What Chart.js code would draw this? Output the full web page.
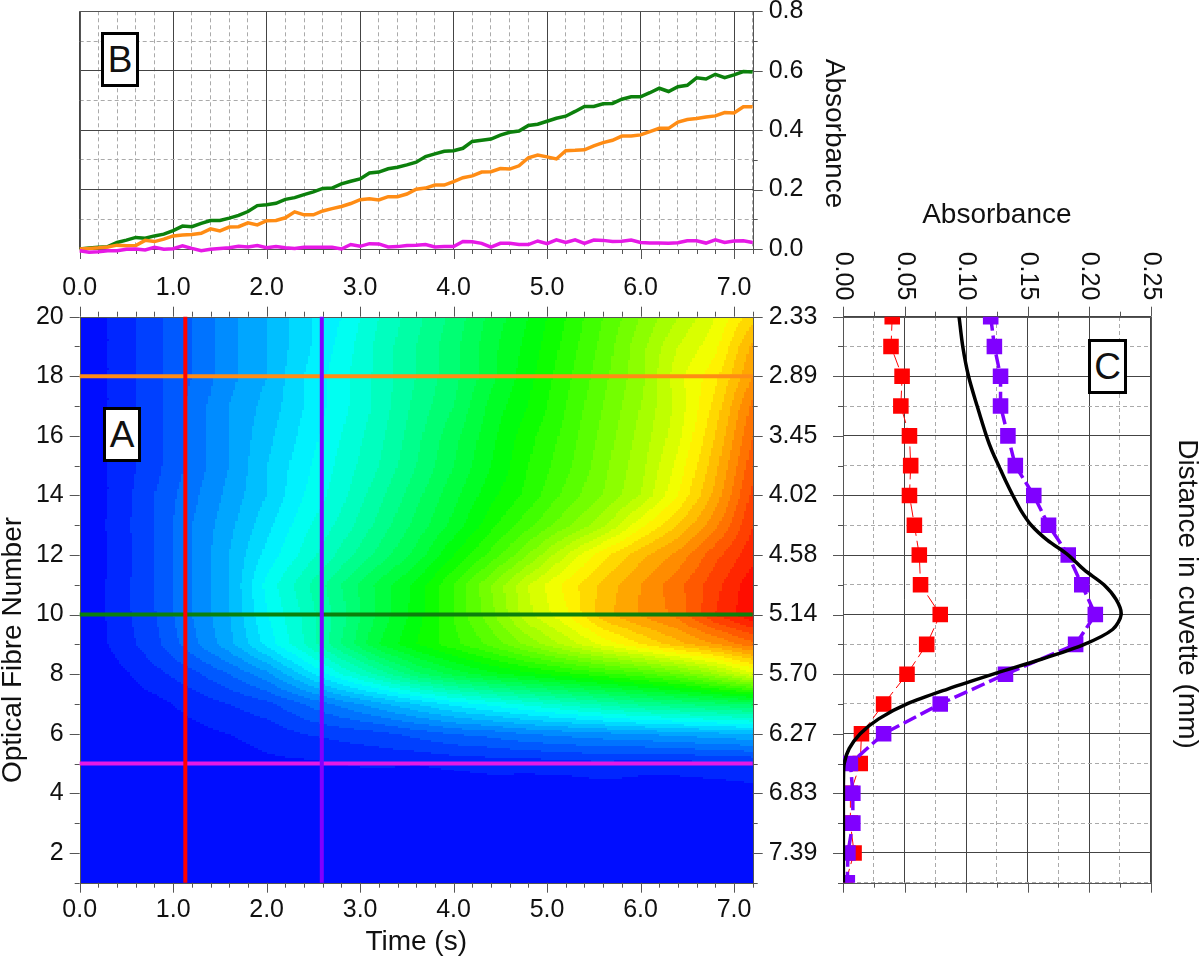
<!DOCTYPE html>
<html>
<head>
<meta charset="utf-8">
<title>Absorbance</title>
<script src="https://cdn.jsdelivr.net/npm/chart.js@4"></script>
<style>
html, body { margin: 0; padding: 0; background: #fff; overflow: hidden; }
canvas { position: absolute; }
.tag { position: absolute; box-sizing: border-box; border: 3px solid #000; background: #fff; color: #111;
  font: 37px "Liberation Sans"; text-align: center; }
</style>
</head>
<body>
<canvas id="panelB" width="860" height="310" style="left:0px;top:0px"></canvas>
<canvas id="panelA" width="840" height="670" style="left:0px;top:290px"></canvas>
<canvas id="panelC" width="380" height="740" style="left:820px;top:200px"></canvas>
<div class="tag" style="left:101px;top:32px;width:38px;height:55px;line-height:49px">B</div>
<div class="tag" style="left:103px;top:407px;width:38px;height:55px;line-height:49px">A</div>
<div class="tag" style="left:1088px;top:339px;width:39px;height:55px;line-height:49px">C</div>
<script>
var timeTicks = [0,0.2,0.4,0.6,0.8,1,1.2,1.4,1.6,1.8,2,2.2,2.4,2.6,2.8,3,3.2,3.4,3.6,3.8,4,4.2,4.4,4.6,4.8,5,5.2,5.4,5.6,5.8,6,6.2,6.4,6.6,6.8,7,7.2];
var timeTickLabels = ['0.0','','','','','1.0','','','','','2.0','','','','','3.0','','','','','4.0','','','','','5.0','','','','','6.0','','','','','7.0',''];
var traceTicks = [0,0.1,0.2,0.3,0.4,0.5,0.6,0.7,0.8];
var traceTickLabels = ['0.0','','0.2','','0.4','','0.6','','0.8'];
var fibreTicks = [1,2,3,4,5,6,7,8,9,10,11,12,13,14,15,16,17,18,19,20];
var fibreTickLabels = ['','2','','4','','6','','8','','10','','12','','14','','16','','18','','20'];
var distanceTickLabels = ['','7.39','','6.83','','6.27','','5.70','','5.14','','4.58','','4.02','','3.45','','2.89','','2.33'];
var profileTicks = [0,0.025,0.05,0.075,0.1,0.125,0.15,0.175,0.2,0.225,0.25];
var profileTickLabels = ['0.00','','0.05','','0.10','','0.15','','0.20','','0.25'];

// panel B, one reading every 0.1 s
var traceTimes = [0,0.1,0.2,0.3,0.4,0.5,0.6,0.7,0.8,0.9,1,1.1,1.2,1.3,1.4,1.5,1.6,1.7,1.8,1.9,2,2.1,2.2,2.3,2.4,2.5,2.6,2.7,2.8,2.9,3,3.1,3.2,3.3,3.4,3.5,3.6,3.7,3.8,3.9,4,4.1,4.2,4.3,4.4,4.5,4.6,4.7,4.8,4.9,5,5.1,5.2,5.3,5.4,5.5,5.6,5.7,5.8,5.9,6,6.1,6.2,6.3,6.4,6.5,6.6,6.7,6.8,6.9,7,7.1,7.2];
var fibre10Trace = [0,.003,.006,.008,.022,.03,.039,.036,.044,.05,.062,.077,.075,.086,.096,.096,.104,.113,.126,.146,.149,.154,.167,.173,.183,.192,.204,.205,.219,.228,.236,.256,.259,.27,.275,.283,.292,.311,.32,.329,.331,.339,.362,.366,.37,.383,.393,.397,.416,.42,.43,.44,.447,.463,.48,.48,.489,.49,.504,.512,.512,.526,.541,.53,.546,.551,.576,.572,.588,.577,.586,.597,.596];
var fibre18Trace = [0,.002,.004,.007,.013,.011,.012,.029,.025,.033,.044,.047,.049,.053,.068,.061,.074,.075,.088,.081,.095,.096,.105,.125,.115,.115,.128,.136,.143,.153,.166,.169,.165,.176,.176,.185,.201,.205,.215,.215,.227,.24,.246,.259,.26,.271,.269,.28,.307,.316,.31,.303,.331,.332,.334,.347,.358,.366,.38,.38,.384,.395,.406,.406,.427,.436,.439,.444,.448,.459,.458,.479,.479];
var fibre5Trace = [-.006,-.011,-.009,-.006,-.006,-.001,0,-.003,.006,-.001,.001,.011,.002,-.006,-.001,.002,.004,.009,.007,.012,.004,.008,.004,.002,.006,.006,.006,.006,0,.015,.009,.018,.017,.007,.008,.012,.013,.015,.007,.008,.008,.025,.024,.019,.006,.019,.019,.015,.015,.027,.018,.031,.022,.031,.019,.03,.029,.025,.026,.03,.022,.02,.02,.019,.021,.028,.028,.02,.031,.022,.027,.028,.022];

// panel C, fibres 20 down to 1
var profileFibres = [20,19,18,17,16,15,14,13,12,11,10,9,8,7,6,5,4,3,2,1];
var earlyProfile = [.04,.039,.048,.047,.054,.055,.054,.058,.062,.063,.079,.068,.052,.033,.015,.014,.006,.006,.009,.002];
var lateProfile = [.12,.123,.128,.128,.134,.14,.155,.167,.183,.194,.205,.189,.132,.079,.033,.006,.008,.008,.004,.0035];
var modelFibres = [20,19,18,17,16,15.5,15,14.5,14,13.5,13,12.5,12,11.5,11,10.5,10,9.5,9,8.5,8,7.5,7,6.5,6,5.5,5,4.5,4,3,1];
var modelProfile = [.0943,.0973,.102,.109,.1165,.121,.1265,.132,.138,.1445,.153,.166,.183,.196,.212,.222,.226,.219,.196,.161,.122,.085,.052,.029,.014,.005,.001,.0004,.0003,.0003,.0003];

// panel A, cross lines
var crossLinesTime = [1.13, 2.59];
var crossLinesFibre = [18, 10, 5];

// panel A, absorbance on a 0.4 s / one fibre grid
var heatTimes = [0,0.4,0.8,1.2,1.6,2,2.4,2.8,3.2,3.6,4,4.4,4.8,5.2,5.6,6,6.4,6.8,7.2];
var heatFibres = [1,2,3,4,5,6,7,8,9,10,11,12,13,14,15,16,17,18,19,20];
var heatRows = [
  [.003,.004,.003,.005,.004,.006,.005,.006,.005,.006,.004,.005,.006,.007,.005,.006,.005,.006,.005],
  [.004,.003,.005,.004,.006,.005,.006,.005,.007,.005,.006,.007,.005,.006,.005,.007,.006,.005,.006],
  [.004,.003,.004,.005,.006,.005,.006,.007,.006,.007,.005,.006,.007,.006,.005,.007,.006,.008,.006],
  [.002,.003,.004,.002,.006,.005,.004,.007,.005,.006,.005,.007,.006,.005,.007,.008,.007,.006,.009],
  [0,.002,.005,.005,.008,.012,.012,.015,.017,.015,.018,.02,.02,.022,.025,.02,.021,.025,.027],
  [0,.002,.005,.01,.015,.02,.03,.035,.04,.05,.06,.065,.075,.08,.085,.09,.095,.1,.105],
  [0,.005,.01,.02,.03,.04,.06,.08,.1,.12,.14,.155,.17,.185,.2,.215,.225,.235,.245],
  [0,.01,.025,.04,.06,.085,.125,.165,.2,.235,.26,.28,.295,.31,.325,.34,.36,.39,.43],
  [0,.02,.04,.07,.1,.14,.18,.225,.27,.3,.325,.35,.38,.41,.44,.465,.49,.51,.535],
  [0,.022,.044,.075,.104,.149,.183,.219,.259,.292,.331,.37,.416,.447,.489,.512,.53,.57,.598],
  [0,.022,.045,.075,.105,.155,.19,.225,.26,.29,.33,.375,.42,.455,.485,.51,.535,.565,.595],
  [0,.02,.045,.075,.105,.14,.17,.2,.23,.26,.3,.335,.375,.42,.46,.49,.515,.55,.58],
  [0,.022,.045,.075,.1,.13,.16,.185,.215,.245,.275,.31,.34,.37,.4,.445,.48,.52,.57],
  [0,.02,.045,.07,.095,.12,.15,.175,.205,.235,.265,.295,.32,.35,.375,.405,.45,.5,.56],
  [0,.02,.04,.065,.09,.12,.145,.17,.195,.225,.255,.285,.315,.34,.37,.4,.44,.49,.55],
  [0,.02,.04,.065,.09,.115,.14,.165,.19,.22,.25,.28,.31,.335,.365,.395,.43,.48,.54],
  [0,.02,.04,.065,.09,.11,.135,.16,.185,.215,.24,.275,.3,.33,.36,.39,.425,.47,.53],
  [0,.02,.04,.06,.085,.105,.135,.16,.185,.21,.235,.265,.295,.325,.355,.385,.43,.46,.51],
  [0,.02,.04,.06,.085,.105,.13,.155,.185,.21,.235,.265,.29,.32,.35,.385,.42,.445,.5],
  [0,.02,.04,.06,.085,.105,.13,.15,.18,.205,.23,.26,.285,.315,.345,.375,.405,.435,.475]
];

Chart.defaults.font.family = '"Liberation Sans"';
Chart.defaults.font.size = 25;
Chart.defaults.color = '#111';
Chart.defaults.animation = false;

var MAJOR_LINE = '#444';
var MINOR_LINE = '#aaa';

function isMajor(tick){
    return tick && tick.label !== '';
}

function fixSize(size){
    return function(scale){
        if(scale.isHorizontal()){
            scale.height = size;
        }else{
            scale.width = size;
        }
        scale.paddingLeft = scale.paddingRight = scale.paddingTop = scale.paddingBottom = 0;
    };
}

function fixTicks(values){
    return function(scale){
        scale.ticks = values.map(function(v){ return {value: v}; });
    };
}

function tickOptions(labels, padding, show){
    return {
        display: show !== false,
        padding: padding,
        autoSkip: false,
        maxRotation: 0,
        minRotation: 0,
        font: {size: 25},
        callback: function(value, i){ return labels[i]; }
    };
}

function gridOptions(){
    return {
        drawTicks: false,
        lineWidth: 1,
        color: function(c){ return isMajor(c.tick) ? MAJOR_LINE : MINOR_LINE; }
    };
}

function gridBorder(){
    return {
        display: false,
        dash: function(c){ return isMajor(c.tick) ? [] : [4, 3]; }
    };
}

function pairs(xs, ys){
    return xs.map(function(x, i){ return {x: x, y: ys[i]}; });
}

// frame and the two tick lengths the library cannot do by itself
function framePlugin(sides){
    return {
        id: 'frame',
        beforeDatasetsDraw: function(chart){
            var ctx = chart.ctx;
            var a = chart.chartArea;
            var xs = chart.scales.x;
            var ys = chart.scales.y;
            ctx.save();
            ctx.strokeStyle = '#555';
            ctx.lineWidth = 1;
            ctx.strokeRect(Math.round(a.left) + 0.5, Math.round(a.top) + 0.5, Math.round(a.right - a.left), Math.round(a.bottom - a.top));
            ctx.beginPath();
            sides.forEach(function(side){
                var scale = (side == 'top' || side == 'bottom') ? xs : ys;
                scale.ticks.forEach(function(t){
                    var len = t.label !== '' ? 10 : 5;
                    var p = Math.round(scale.getPixelForValue(t.value)) + 0.5;
                    if(side == 'top'){ ctx.moveTo(p, a.top); ctx.lineTo(p, a.top - len); }
                    if(side == 'bottom'){ ctx.moveTo(p, a.bottom); ctx.lineTo(p, a.bottom + len); }
                    if(side == 'left'){ ctx.moveTo(a.left, p); ctx.lineTo(a.left - len, p); }
                    if(side == 'right'){ ctx.moveTo(a.right, p); ctx.lineTo(a.right + len, p); }
                });
            });
            ctx.stroke();
            ctx.restore();
        }
    };
}

// rotated axis titles, the library can only centre them on the axis
function titlePlugin(text, x, y, angle){
    return {
        id: 'sideTitle',
        afterDraw: function(chart){
            var ctx = chart.ctx;
            ctx.save();
            ctx.translate(x, y);
            ctx.rotate(angle);
            ctx.font = '28px "Liberation Sans"';
            ctx.fillStyle = '#111';
            ctx.textAlign = 'center';
            ctx.textBaseline = 'middle';
            ctx.fillText(text, 0, 0);
            ctx.restore();
        }
    };
}

function heatColor(v){
    var step = 0.015;
    var m = Math.min(0.6, Math.floor(Math.max(v, 0) / step) * step + step / 2);
    var r = 0, g = 0, b = 0;
    if(m < 0.15){ g = m / 0.15; b = 1; }
    else if(m < 0.3){ g = 1; b = 1 - (m - 0.15) / 0.15; }
    else if(m < 0.45){ r = (m - 0.3) / 0.15; g = 1; }
    else { r = 1; g = 1 - (m - 0.45) / 0.15; }
    return 'rgb(' + Math.round(r * 255) + ',' + Math.round(g * 255) + ',' + Math.round(b * 255) + ')';
}

var heatPlugin = {
    id: 'heat',
    beforeDatasetsDraw: function(chart){
        var ctx = chart.ctx;
        var xs = chart.scales.x;
        var ys = chart.scales.y;
        var nx = 18, ny = 15;
        ctx.save();
        for(var j = 0; j < heatFibres.length - 1; j++){
            for(var i = 0; i < heatTimes.length - 1; i++){
                var q00 = heatRows[j][i], q10 = heatRows[j][i + 1];
                var q01 = heatRows[j + 1][i], q11 = heatRows[j + 1][i + 1];
                var dt = heatTimes[i + 1] - heatTimes[i];
                for(var a = 0; a < nx; a++){
                    for(var b = 0; b < ny; b++){
                        var u = (a + 0.5) / nx, w = (b + 0.5) / ny;
                        var v = (q00 * (1 - u) + q10 * u) * (1 - w) + (q01 * (1 - u) + q11 * u) * w;
                        var x0 = Math.round(xs.getPixelForValue(heatTimes[i] + dt * a / nx));
                        var x1 = Math.round(xs.getPixelForValue(heatTimes[i] + dt * (a + 1) / nx));
                        var y0 = Math.round(ys.getPixelForValue(heatFibres[j] + (b + 1) / ny));
                        var y1 = Math.round(ys.getPixelForValue(heatFibres[j] + b / ny));
                        ctx.fillStyle = heatColor(v);
                        ctx.fillRect(x0, y0, x1 - x0, y1 - y0);
                    }
                }
            }
        }
        ctx.restore();
    }
};

// panel C tick labels read downwards, the library only rotates them the other way
var profileLabelPlugin = {
    id: 'profileLabels',
    afterDraw: function(chart){
        var ctx = chart.ctx;
        var xs = chart.scales.x;
        ctx.save();
        ctx.font = '25px "Liberation Sans"';
        ctx.fillStyle = '#111';
        ctx.textAlign = 'center';
        ctx.textBaseline = 'middle';
        profileTicks.forEach(function(v, i){
            if(profileTickLabels[i] === ''){ return; }
            ctx.save();
            ctx.translate(xs.getPixelForValue(v), 76);
            ctx.rotate(Math.PI / 2);
            ctx.fillText(profileTickLabels[i], 0, 0);
            ctx.restore();
        });
        ctx.restore();
    }
};

function lineSet(label, data, color, width){
    return {
        label: label,
        data: data,
        showLine: true,
        borderColor: color,
        backgroundColor: color,
        borderWidth: width,
        pointRadius: 0,
        tension: 0,
        clip: false
    };
}

function baseOptions(padding, scales){
    return {
        responsive: false,
        animation: false,
        layout: {padding: padding},
        plugins: {legend: {display: false}, tooltip: {enabled: false}, title: {display: false}},
        scales: scales
    };
}

new Chart(document.getElementById('panelB'), {
    type: 'scatter',
    data: {
        datasets: [
            lineSet('Fibre 5', pairs(traceTimes, fibre5Trace), '#e619e6', 3.5),
            lineSet('Fibre 18', pairs(traceTimes, fibre18Trace), '#ff8c14', 3.5),
            lineSet('Fibre 10', pairs(traceTimes, fibre10Trace), '#0c800c', 3.5)
        ]
    },
    options: baseOptions({left: 79.7, top: 11.3, right: 0, bottom: 0}, {
        x: {
            type: 'linear', position: 'bottom', min: 0, max: 7.2,
            afterBuildTicks: fixTicks(timeTicks), afterFit: fixSize(61),
            ticks: tickOptions(timeTickLabels, 24), grid: gridOptions(), border: gridBorder()
        },
        y: {
            type: 'linear', position: 'right', min: 0, max: 0.8,
            afterBuildTicks: fixTicks(traceTicks), afterFit: fixSize(107.3),
            ticks: tickOptions(traceTickLabels, 16), grid: gridOptions(), border: gridBorder()
        }
    }),
    plugins: [framePlugin(['bottom', 'right']), titlePlugin('Absorbance', 834, 133.5, Math.PI / 2)]
});

new Chart(document.getElementById('panelA'), {
    type: 'scatter',
    data: {
        datasets: [
            lineSet('Time 1.13', pairs([crossLinesTime[0], crossLinesTime[0]], [1, 20]), '#ff0000', 4),
            lineSet('Time 2.59', pairs([crossLinesTime[1], crossLinesTime[1]], [1, 20]), '#8000ff', 4),
            lineSet('Fibre 18', pairs([0, 7.2], [crossLinesFibre[0], crossLinesFibre[0]]), '#ff8c14', 4),
            lineSet('Fibre 10', pairs([0, 7.2], [crossLinesFibre[1], crossLinesFibre[1]]), '#0c800c', 4),
            lineSet('Fibre 5', pairs([0, 7.2], [crossLinesFibre[2], crossLinesFibre[2]]), '#e619e6', 4)
        ]
    },
    options: baseOptions({left: 0, top: 26.7, right: 0, bottom: 0}, {
        x: {
            type: 'linear', position: 'bottom', min: 0, max: 7.2,
            afterBuildTicks: fixTicks(timeTicks), afterFit: fixSize(77.3),
            ticks: tickOptions(timeTickLabels, 12), grid: {display: false, drawTicks: false}, border: {display: false},
            title: {display: true, text: 'Time (s)', font: {size: 28, lineHeight: 1}, padding: {top: 0, bottom: 3.5}}
        },
        y: {
            type: 'linear', position: 'left', min: 1, max: 20,
            afterBuildTicks: fixTicks(fibreTicks), afterFit: fixSize(79.7),
            ticks: tickOptions(fibreTickLabels, 16), grid: {display: false, drawTicks: false}, border: {display: false}
        },
        y2: {
            type: 'linear', position: 'right', min: 1, max: 20,
            afterBuildTicks: fixTicks(fibreTicks), afterFit: fixSize(87.3),
            ticks: tickOptions(distanceTickLabels, 16), grid: {display: false, drawTicks: false}, border: {display: false}
        }
    }),
    plugins: [heatPlugin, framePlugin(['top', 'bottom', 'left', 'right']), titlePlugin('Optical Fibre Number', 13, 360, -Math.PI / 2)]
});

new Chart(document.getElementById('panelC'), {
    type: 'scatter',
    data: {
        datasets: [
            Object.assign(lineSet('Model', pairs(modelProfile, modelFibres), '#000000', 3.5), {tension: 0.3, clip: 0}),
            Object.assign(lineSet('Late', pairs(lateProfile, profileFibres), '#8000ff', 3.5), {
                pointStyle: 'rect', pointRadius: 11, borderDash: [14, 5], clip: 0, pointBorderWidth: 0
            }),
            Object.assign(lineSet('Early', pairs(earlyProfile, profileFibres), '#ff0000', 1), {
                pointStyle: 'rect', pointRadius: 11, borderDash: [14, 5], clip: 0, pointBorderWidth: 0
            })
        ]
    },
    options: baseOptions({left: 23, top: 0, right: 0, bottom: 57.3}, {
        x: {
            type: 'linear', position: 'top', min: 0, max: 0.25,
            afterBuildTicks: fixTicks(profileTicks), afterFit: fixSize(116.7),
            ticks: tickOptions(profileTickLabels, 0, false), grid: gridOptions(), border: gridBorder(),
            title: {display: true, text: 'Absorbance', font: {size: 28, lineHeight: 1}, padding: {top: 1, bottom: 0}}
        },
        y: {
            type: 'linear', position: 'right', min: 1, max: 20,
            afterBuildTicks: fixTicks(fibreTicks), afterFit: fixSize(49.3),
            ticks: tickOptions(fibreTickLabels, 0, false), grid: gridOptions(), border: gridBorder()
        }
    }),
    plugins: [framePlugin(['top', 'bottom', 'left']), profileLabelPlugin, titlePlugin('Distance in cuvette (mm)', 366.5, 394, Math.PI / 2)]
});
</script>
</body>
</html>
